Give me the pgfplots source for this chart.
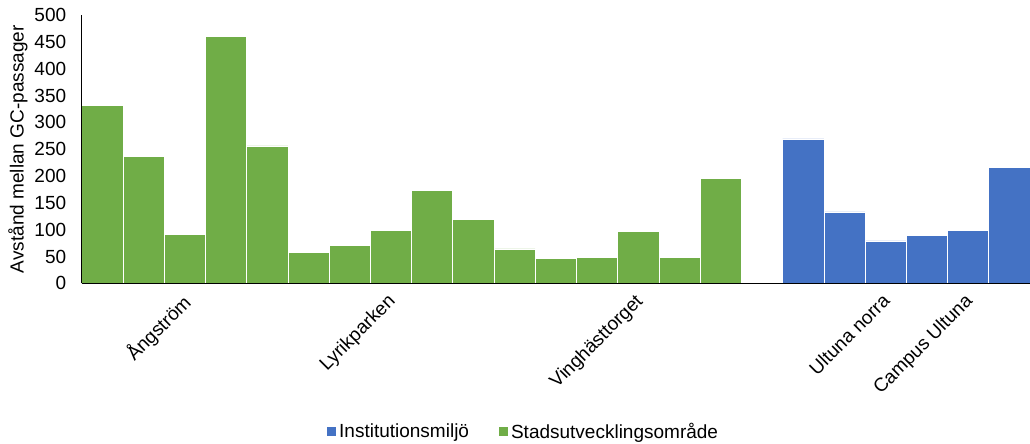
\documentclass[border=0pt]{standalone}
\usepackage{fontspec}
\setmainfont{Liberation Sans}
\usepackage{pgfplots}
\pgfplotsset{compat=1.18}

\definecolor{instblue}{HTML}{4472C4}
\definecolor{stadgreen}{HTML}{70AD47}

\newcommand{\chartfont}{\fontsize{19}{22.5}\selectfont}

\begin{document}
\begin{tikzpicture}[x=1pt,y=1pt]
\useasboundingbox (0,0) rectangle (1030,444);
\begin{axis}[
  at={(81.7pt,160.7pt)}, anchor=south west,
  scale only axis,
  width=948.3pt, height=268.3pt,
  xmin=0.5, xmax=23.5,
  ymin=0, ymax=500,
  ytick={0,50,...,500},
  xtick={3,8,14,20,22},
  xticklabels={Ångström,Lyrikparken,Vinghästtorget,Ultuna norra,Campus Ultuna},
  major tick length=0pt,
  axis on top,
  axis x line*=bottom, axis y line*=left,
  axis line style={black, line width=0.9pt, -},
  /pgf/number format/assume math mode=true,
  tick label style={font=\chartfont},
  yticklabel style={xshift=-12pt},
  xticklabel style={xshift=-4.5pt, yshift=-9pt, rotate=45, anchor=north east, inner sep=0pt},
  ylabel={Avstånd mellan GC-passager},
  ylabel style={font=\chartfont, at={(axis description cs:-0.0672,0.5)}, anchor=center},
  legend columns=2,
  legend style={at={(0.466,-0.553)}, anchor=center, draw=none, font=\chartfont,
    /tikz/every odd column/.append style={column sep=1pt},
    /tikz/every even column/.append style={column sep=28pt}},
  legend image code/.code={\fill[#1, draw=none] (0pt,-4.5pt) rectangle (9pt,4.5pt);},
  clip=false,
]
% Institutional environments
\addplot[ybar, bar width=1, bar shift=0pt, fill=instblue, draw=white, line width=0.6pt]
  coordinates {(18,269) (19,133) (20,79) (21,89) (22,99) (23,216)};
\addlegendentry{Institutionsmiljö}
% Urban development areas
\addplot[ybar, bar width=1, bar shift=0pt, fill=stadgreen, draw=white, line width=0.6pt]
  coordinates {(1,332) (2,237) (3,91) (4,460) (5,256) (6,58) (7,71) (8,99)
               (9,173) (10,119) (11,64) (12,47) (13,48) (14,97) (15,48) (16,196)};
\addlegendentry{Stadsutvecklingsområde}
\end{axis}
\end{tikzpicture}
\end{document}
